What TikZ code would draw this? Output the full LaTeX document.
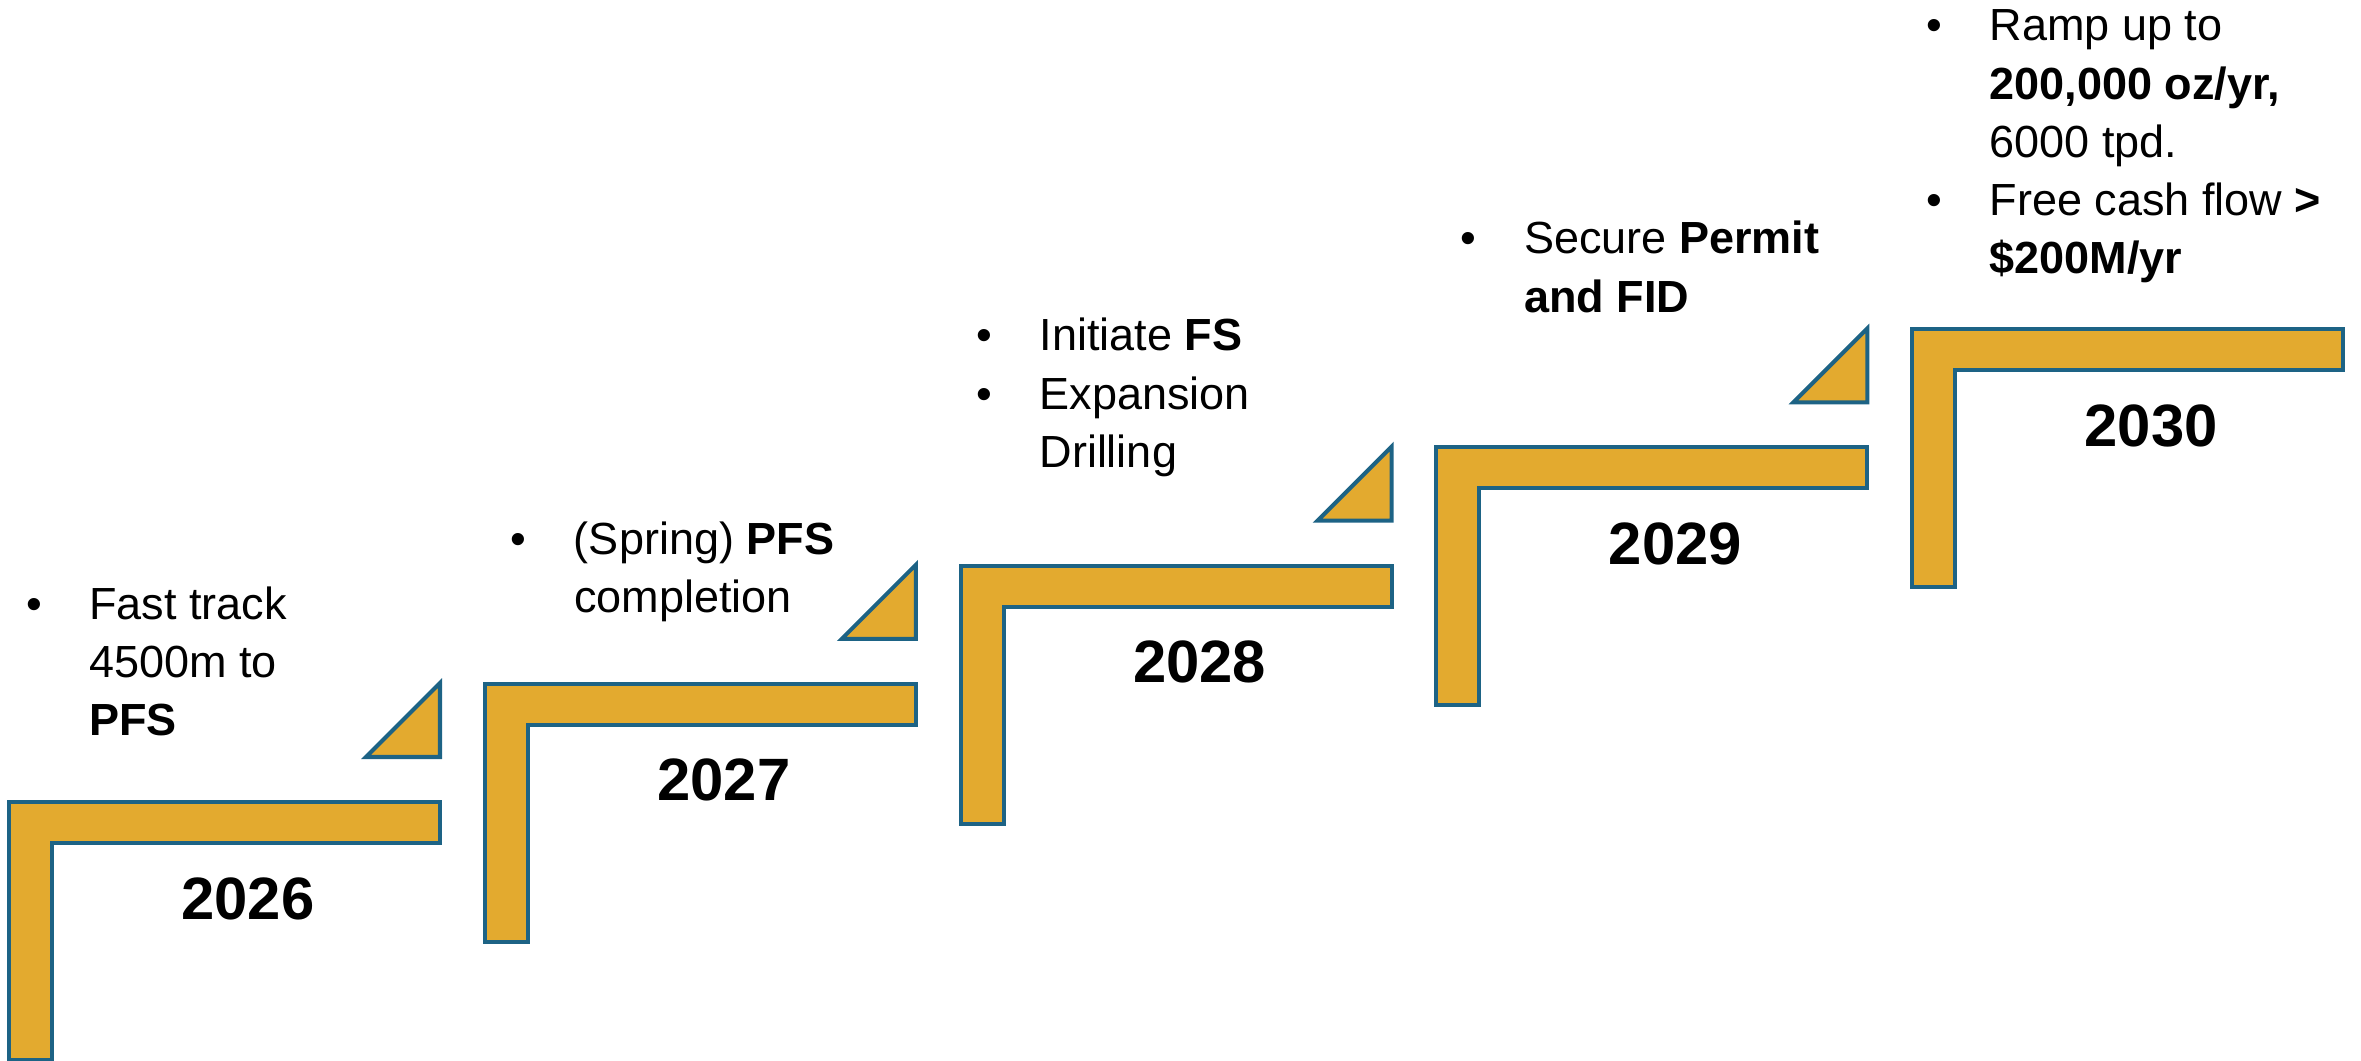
\documentclass[tikz,border=0pt]{standalone}
\usepackage{fontspec}
\setmainfont{Liberation Sans}
\definecolor{stepfill}{HTML}{E3AA2F}
\definecolor{stepline}{HTML}{1D6385}
\begin{document}
\begin{tikzpicture}[x=0.01cm,y=-0.01cm,
  stepshape/.style={fill=stepfill,draw=stepline,line width=1.15pt,line join=miter},
  yearlabel/.style={anchor=base,inner sep=0pt,font=\fontsize{17}{20}\selectfont\bfseries},
  notes/.style={anchor=base west,inner sep=0pt,font=\fontsize{12.8}{16.5}\selectfont}]
\useasboundingbox (0,0) rectangle (2361,1061);

% staircase of L-shaped steps with their year labels
\foreach \i/\yr in {0/2026,1/2027,2/2028,3/2029,4/2030}{
  \pgfmathsetmacro\lx{9+475.8*\i}
  \pgfmathsetmacro\ty{802-118.2*\i}
  \draw[stepshape] (\lx,\ty) -- ++(431,0) -- ++(0,41) -- ++(-388,0)
        -- ++(0,217) -- ++(-43,0) -- cycle;
  \node[yearlabel] (year\yr) at (\lx+239,\ty+117) {\yr};
}

% small wedges rising towards the next step
\foreach \i in {0,...,3}{
  \pgfmathsetmacro\lx{9+475.8*\i}
  \pgfmathsetmacro\ty{802-118.2*\i}
  \draw[stepshape] (\lx+431,\ty-45) -- ++(0,-74) -- ++(-74,74) -- cycle;
}

% milestone notes
\node[notes] (note2026) at (25.3,619) {\begin{tabular}[t]{@{}p{18pt}@{}l@{}}
  \textbullet & Fast track\\ & 4500m to\\ & \textbf{PFS}\end{tabular}};
\node[notes] (note2027) at (510,554) {\begin{tabular}[t]{@{}p{18pt}@{}l@{}}
  \textbullet & (Spring) \textbf{PFS}\\ & completion\end{tabular}};
\node[notes] (note2028) at (975.5,351) {\begin{tabular}[t]{@{}p{18pt}@{}l@{}}
  \textbullet & Initiate \textbf{FS}\\ \textbullet & Expansion\\ & Drilling\end{tabular}};
\node[notes] (note2029) at (1460,254) {\begin{tabular}[t]{@{}p{18pt}@{}l@{}}
  \textbullet & Secure \textbf{Permit}\\ & \textbf{and FID}\end{tabular}};
\node[notes] (note2030) at (1925.5,41) {\begin{tabular}[t]{@{}p{18pt}@{}l@{}}
  \textbullet & Ramp up to\\ & \textbf{200,000 oz/yr,}\\ & 6000 tpd.\\
  \textbullet & Free cash flow \textbf{>}\\ & \textbf{\$200M/yr}\end{tabular}};
\end{tikzpicture}
\end{document}
